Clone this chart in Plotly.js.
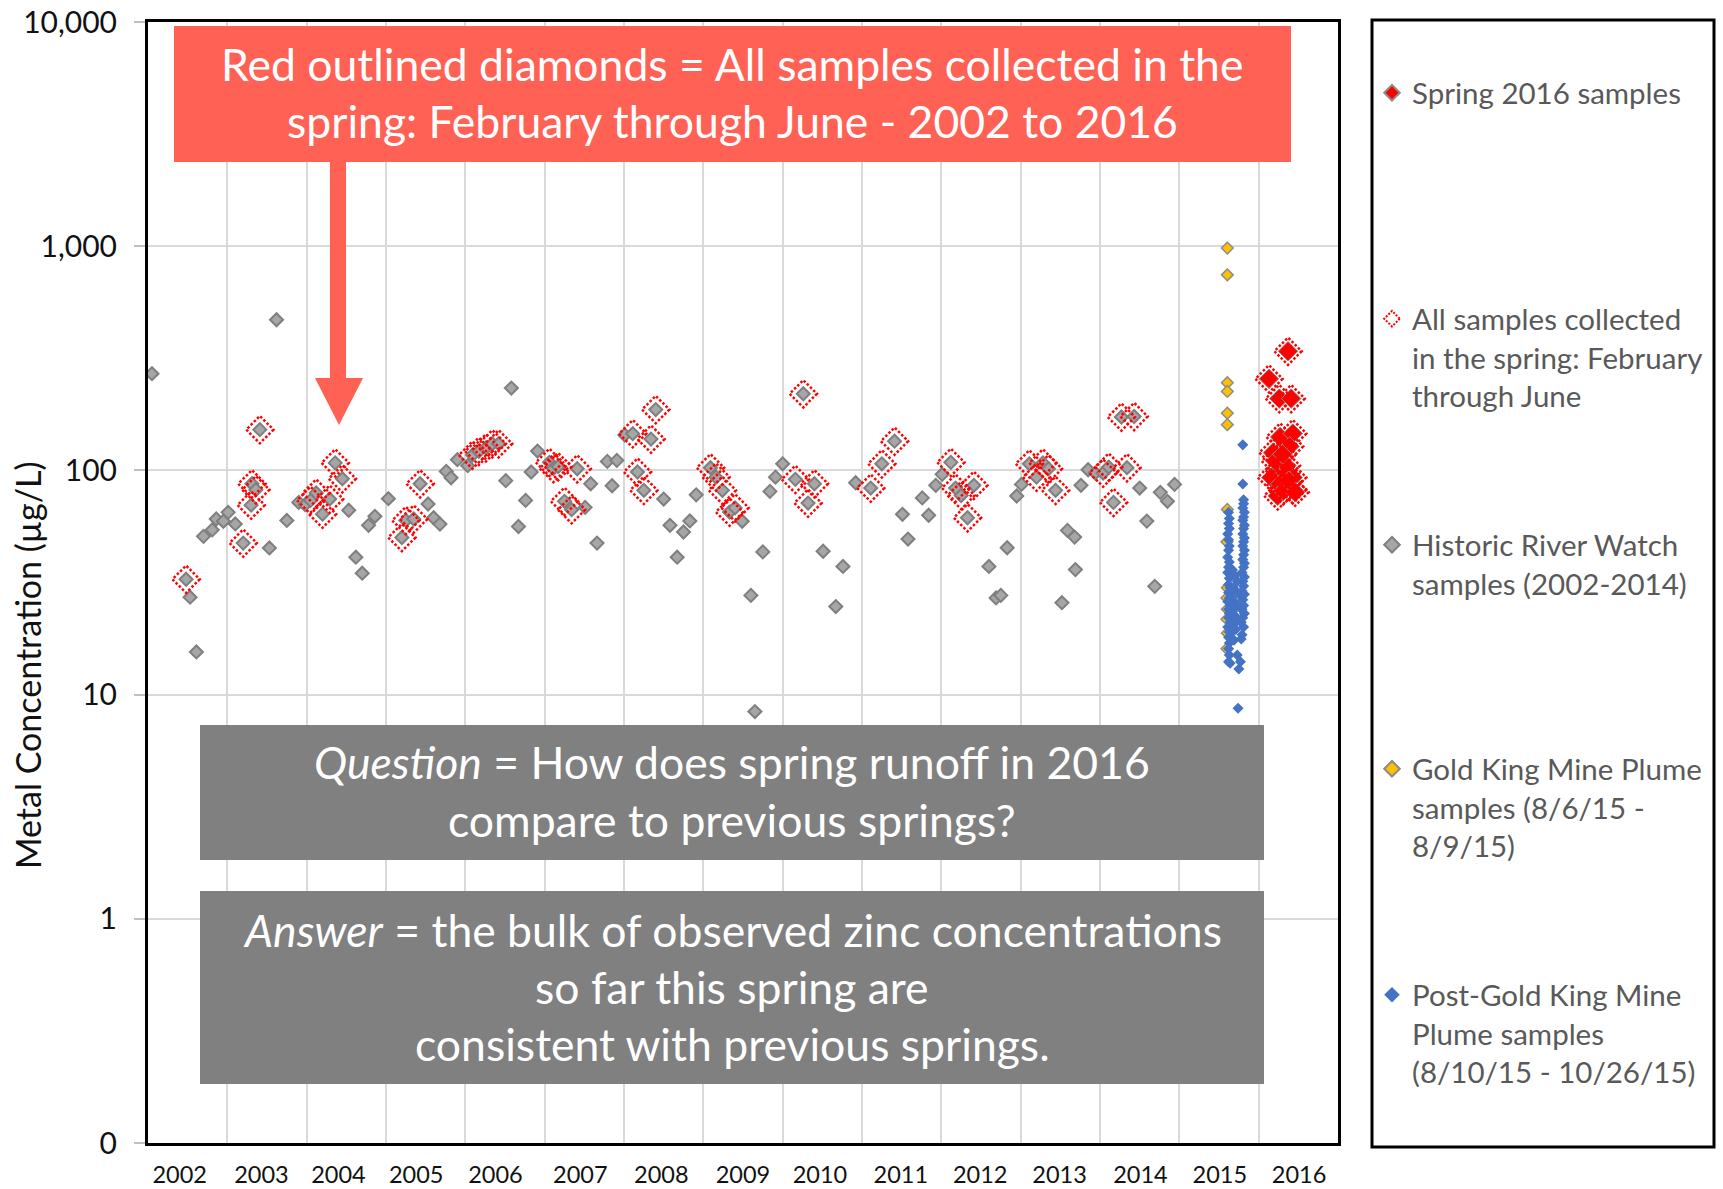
<!DOCTYPE html>
<html><head><meta charset="utf-8">
<script src="https://cdn.plot.ly/plotly-3.0.1.min.js"></script>
<style>html,body{margin:0;padding:0;background:#fff;} #chart{width:1723px;height:1189px;}</style>
</head><body><div id="chart"></div>
<script>
const yearLabels = ['2002','2003','2004','2005','2006','2007','2008','2009','2010','2011','2012','2013','2014','2015','2016'];
const yTickVals = [0.1, 1, 10, 100, 1000, 10000];
const yTickText = ['0', '1', '10', '100', '1,000', '10,000'];

// Historic River Watch samples (decimal year, zinc µg/L, collected in spring 1/0)
const histYear = [2002.05,2002.48,2002.53,2002.61,2002.70,2002.81,2002.86,2002.95,2003.01,2003.10,
  2003.20,2003.30,2003.31,2003.36,2003.41,2003.53,2003.62,2003.75,2003.90,2003.98,
  2004.05,2004.12,2004.20,2004.29,2004.36,2004.45,2004.53,2004.62,2004.70,2004.78,2004.86,
  2005.03,2005.20,2005.25,2005.35,2005.43,2005.53,2005.60,2005.68,2005.76,2005.82,2005.90,
  2006.03,2006.09,2006.17,2006.26,2006.34,2006.42,2006.51,2006.58,2006.67,2006.76,2006.83,2006.91,
  2007.06,2007.11,2007.17,2007.25,2007.34,2007.41,2007.51,2007.58,2007.66,2007.79,2007.85,2007.91,
  2008.01,2008.11,2008.17,2008.25,2008.34,2008.40,2008.50,2008.58,2008.67,2008.75,2008.83,2008.91,
  2009.09,2009.16,2009.24,2009.33,2009.40,2009.49,2009.60,2009.65,2009.75,2009.84,2009.91,2010.00,
  2010.16,2010.26,2010.32,2010.40,2010.51,2010.67,2010.76,2010.92,
  2011.11,2011.25,2011.41,2011.51,2011.58,2011.76,2011.84,2011.93,2012.01,
  2012.12,2012.18,2012.25,2012.33,2012.41,2012.60,2012.69,2012.75,2012.83,2012.95,2013.01,
  2013.11,2013.20,2013.28,2013.35,2013.44,2013.52,2013.59,2013.68,2013.69,2013.76,2013.85,2013.94,
  2014.04,2014.11,2014.17,2014.27,2014.34,2014.43,2014.50,2014.59,2014.69,2014.76,2014.85,2014.94];
const histZinc = [270,32.7,27.2,15.5,50.8,54.3,60.7,59.3,65,57.7,
  47.4,70,87.2,82,152,45.1,470,59.8,72,70.3,
  73.5,79.3,63.8,74.5,108,91.8,66.4,41,34.8,56.9,62.4,
  74.8,50.2,59.8,60.7,87.2,70.8,61.5,57.6,99,92.7,111.6,
  105,117,121.6,126,131.5,131.5,90,233,56.2,73.5,98.4,122,
  108.6,102,104,72.8,66.8,101.7,68.4,87.2,47.4,109.7,85.4,110.8,
  143.8,145.8,98.4,81.5,138,186.8,74.5,56.9,41,53.1,59.5,77.8,
  102.8,93.3,81.5,65.2,68.1,59.3,27.7,8.4,43.3,80.6,93.3,107,
  91.2,219.7,71.5,87.2,43.6,24.7,37.3,88.1,
  83.4,107,135,63.7,49.4,75.4,63.1,85.8,96,
  108.6,83.4,77.3,61.5,85.8,37.3,27,27.7,45.2,76.9,86.6,
  107,93.3,108,101.7,81.5,25.7,54,50.4,36.1,85.8,100.7,97.3,
  97.3,103.5,72,173,102.8,174,83.4,59.4,30.4,79.8,72.8,86.6];
const histSpring = [0,1,0,0,0,0,0,0,0,0,
  1,1,1,1,1,0,0,0,0,0,
  1,1,1,1,1,1,0,0,0,0,0,
  0,1,1,1,1,0,0,0,0,0,0,
  0,1,1,1,1,1,0,0,0,0,0,0,
  1,1,1,1,1,1,0,0,0,0,0,0,
  0,1,1,1,1,1,0,0,0,0,0,0,
  1,1,1,1,1,0,0,0,0,0,0,0,
  1,1,1,1,0,0,0,0,
  1,1,1,0,0,0,0,0,0,
  1,1,1,1,1,0,0,0,0,0,0,
  1,1,1,1,1,0,0,0,0,0,0,0,
  1,1,1,1,1,1,0,0,0,0,0,0];

// Gold King Mine plume samples (8/6/15 - 8/9/15)
const gkYear = [2015.605,2015.605,2015.605,2015.605,2015.605,2015.605,2015.605,2015.600,2015.605,2015.600,2015.605,2015.600,2015.605,2015.600];
const gkZinc = [981,745,246,225,180,160,67,48,30,27,24,21.7,18.8,16];

// Post-Gold King Mine plume samples (8/10/15 - 10/26/15)
const postYear = [2015.80,2015.80,2015.81,2015.81,2015.80,2015.82,2015.81,2015.80,2015.82,2015.81,2015.80,2015.82,2015.81,2015.80,2015.82,2015.81,2015.80,2015.82,2015.81,2015.79,2015.82,2015.80,2015.81,2015.79,2015.82,2015.80,2015.81,2015.79,2015.82,2015.80,2015.78,2015.81,2015.79,2015.78,2015.75,2015.74,
  2015.62,2015.63,2015.62,2015.63,2015.61,2015.62,2015.63,2015.62,2015.61,2015.63,2015.62,2015.61,2015.63,2015.62,2015.64,2015.62,2015.63,2015.61,2015.64,2015.62,2015.63,2015.62,2015.64,2015.61,2015.63,2015.62,2015.63,2015.62,2015.63,2015.62,2015.64,
  2015.67,2015.70,2015.73,2015.68,2015.71,2015.75,2015.66,2015.69,2015.72,2015.76,2015.67,2015.70,2015.74,2015.68,2015.71,2015.66,2015.69,2015.73,2015.77];
const postZinc = [130,87,74,71,68,65,62,60,57,55,52,50,48,46,44,42,40,38.5,37,35,33.5,32,30.5,29,28,26.5,25,24,23,22,21,20,18.5,17.7,13.0,8.7,
  65,61,58,55,52,49,46,44,41,39,37,35,33,31,30,28.5,27,26,25,24,23,22,21,20,19,18,17,16,15,14,13.8,
  36,34,32,30,29,28,27,26,25,24.5,23.5,22.5,21.5,20.5,19.5,19,17.5,15,14];

// Spring 2016 samples
const s16Year = [2016.37,2016.13,2016.26,2016.41,2016.27,2016.43,2016.39,2016.18,2016.26,2016.16,2016.34,2016.43,2016.27,2016.43,2016.24,2016.31,2016.35,2016.21,2016.30,2016.38,2016.46];
const s16Zinc = [340,256,209,209,141,146,128,120,100,93,97,93,87,82,77,81,105,110,118,90,80];

// All spring samples (Feb-June): flagged historic + 2016
const springYear = histYear.filter((v, i) => histSpring[i] === 1).concat(s16Year);
const springZinc = histZinc.filter((v, i) => histSpring[i] === 1).concat(s16Zinc);

// tick label placement (within each year band) and year gridlines
const labelPos = [2002.40,2003.43,2004.40,2005.38,2006.38,2007.45,2008.47,2009.50,2010.47,2011.49,2012.49,2013.49,2014.51,2015.51,2016.51];
const gridPos = yearLabels.slice(1).map(Number);

const FONT = 'Lato, "Open Sans", sans-serif';

const traces = [
  {type:'scatter', mode:'markers', name:'Historic River Watch<br>samples (2002-2014)', x:histYear, y:histZinc,
   marker:{symbol:'diamond', size:10, color:'#A6A6A6', line:{color:'#7F7F7F', width:2}}, legend:'legend3'},
  {type:'scatter', mode:'markers', name:'Gold King Mine Plume<br>samples (8/6/15 -<br>8/9/15)', x:gkYear, y:gkZinc,
   marker:{symbol:'diamond', size:9, color:'#FFC000', line:{color:'#8C8C8C', width:1.5}}, legend:'legend4'},
  {type:'scatter', mode:'markers', name:'Post-Gold King Mine<br>Plume samples<br>(8/10/15 - 10/26/15)', x:postYear, y:postZinc,
   marker:{symbol:'diamond', size:8.5, color:'#4472C4', line:{width:0}}, legend:'legend5'},
  {type:'scatter', mode:'markers', name:'Spring 2016 samples', x:s16Year, y:s16Zinc,
   marker:{symbol:'diamond', size:15, color:'#FF0000', line:{color:'#8C8C8C', width:1}}, legend:'legend'},
  {type:'scatter', mode:'markers', uid:'springol', name:'All samples collected<br>in the spring: February<br>through June', x:springYear, y:springZinc,
   marker:{symbol:'diamond-open', size:21, color:'#FF0000', line:{width:2.5}}, legend:'legend2'}
];

function px2py(Y){ return (1143 - Y) / 1121; }
function px2px(X){ return (X - 148) / 1190; }

const legBase = {x: px2px(1372), xanchor:'left', yanchor:'top', bgcolor:'rgba(0,0,0,0)', borderwidth:0,
  font:{family:FONT, size:29.5, color:'#595959'}, valign:'top', itemsizing:'constant', itemclick:false};

const RED = '#FF6155', GRAY = '#808080';
const arrow = [[330,162],[346,162],[346,378],[363,378],[339,425],[315,378],[330,378]];
const arrowPath = 'M' + arrow.map(p => px2px(p[0]).toFixed(4) + ',' + px2py(p[1]).toFixed(4)).join(' L') + ' Z';

const boxLine = (txt, X, Y) => ({text:txt, xref:'paper', yref:'paper', x:px2px(X), y:px2py(Y), xanchor:'center', yanchor:'middle',
  showarrow:false, font:{family:FONT, size:44.5, color:'#FFFFFF'}});

const layout = {
  width:1723, height:1189,
  margin:{l:148, r:385, t:22, b:46},
  paper_bgcolor:'#FFFFFF', plot_bgcolor:'#FFFFFF',
  showlegend:true,
  xaxis:{range:[2002, 2017], tickmode:'array', tickvals:labelPos, ticktext:yearLabels, showgrid:false, zeroline:false,
    ticks:'', ticklabelstandoff:9, tickfont:{family:FONT, size:23.5, color:'#111111'},
    showline:true, linecolor:'#000000', linewidth:3, mirror:true,
    minor:{tickmode:'array', tickvals:gridPos, showgrid:true, gridcolor:'#D9D9D9', gridwidth:2, ticks:''}},
  yaxis:{type:'log', range:[-1, 4], tickmode:'array', tickvals:yTickVals, ticktext:yTickText,
    showgrid:true, gridcolor:'#D9D9D9', gridwidth:2, zeroline:false,
    ticks:'outside', ticklen:11, tickwidth:2, tickcolor:'#BFBFBF', ticklabelstandoff:11,
    tickfont:{family:FONT, size:30, color:'#111111'},
    showline:true, linecolor:'#000000', linewidth:3, mirror:true},
  legend: Object.assign({}, legBase, {y: px2py(67)}),
  legend2: Object.assign({}, legBase, {y: px2py(293)}),
  legend3: Object.assign({}, legBase, {y: px2py(519)}),
  legend4: Object.assign({}, legBase, {y: px2py(743)}),
  legend5: Object.assign({}, legBase, {y: px2py(969)}),
  shapes:[
    {type:'rect', xref:'paper', yref:'paper', x0:px2px(174), x1:px2px(1291), y0:px2py(162), y1:px2py(26), fillcolor:RED, line:{width:0}},
    {type:'path', xref:'paper', yref:'paper', path:arrowPath, fillcolor:RED, line:{width:0}},
    {type:'rect', xref:'paper', yref:'paper', x0:px2px(200), x1:px2px(1264), y0:px2py(860), y1:px2py(725), fillcolor:GRAY, line:{width:0}},
    {type:'rect', xref:'paper', yref:'paper', x0:px2px(200), x1:px2px(1264), y0:px2py(1084), y1:px2py(891), fillcolor:GRAY, line:{width:0}},
    {type:'rect', xref:'paper', yref:'paper', x0:px2px(1372), x1:px2px(1714), y0:px2py(1147), y1:px2py(20), fillcolor:'rgba(0,0,0,0)', line:{color:'#000000', width:3}}
  ],
  annotations:[
    boxLine('Red outlined diamonds = All samples collected in the', 732, 63.8),
    boxLine('spring: February through June - 2002 to 2016', 732, 120.8),
    boxLine('<i>Question</i> = How does spring runoff in 2016', 732, 761.8),
    boxLine('compare to previous springs?', 732, 819.8),
    boxLine('<i>Answer</i> = the bulk of observed zinc concentrations', 732, 929.8),
    boxLine('so far this spring are', 732, 986.8),
    boxLine('consistent with previous springs.', 732, 1043.8),
    {text:'Metal Concentration (µg/L)', xref:'paper', yref:'paper', x:px2px(27), y:px2py(665), xanchor:'center', yanchor:'middle',
     textangle:-90, showarrow:false, font:{family:FONT, size:34, color:'#111111'}}
  ]
};

Plotly.newPlot('chart', traces, layout, {displayModeBar:false, staticPlot:true}).then(function(){
  document.querySelectorAll('.tracespringol path.point').forEach(function(p){
    p.style.strokeDasharray = '2.5,2';
  });
  document.querySelectorAll('.infolayer .traces').forEach(function(g){
    if (g.textContent.indexOf('All samples') >= 0) {
      g.querySelectorAll('path').forEach(function(p){ p.style.strokeDasharray = '2,1.5'; });
    }
  });
});
</script>
</body></html>
